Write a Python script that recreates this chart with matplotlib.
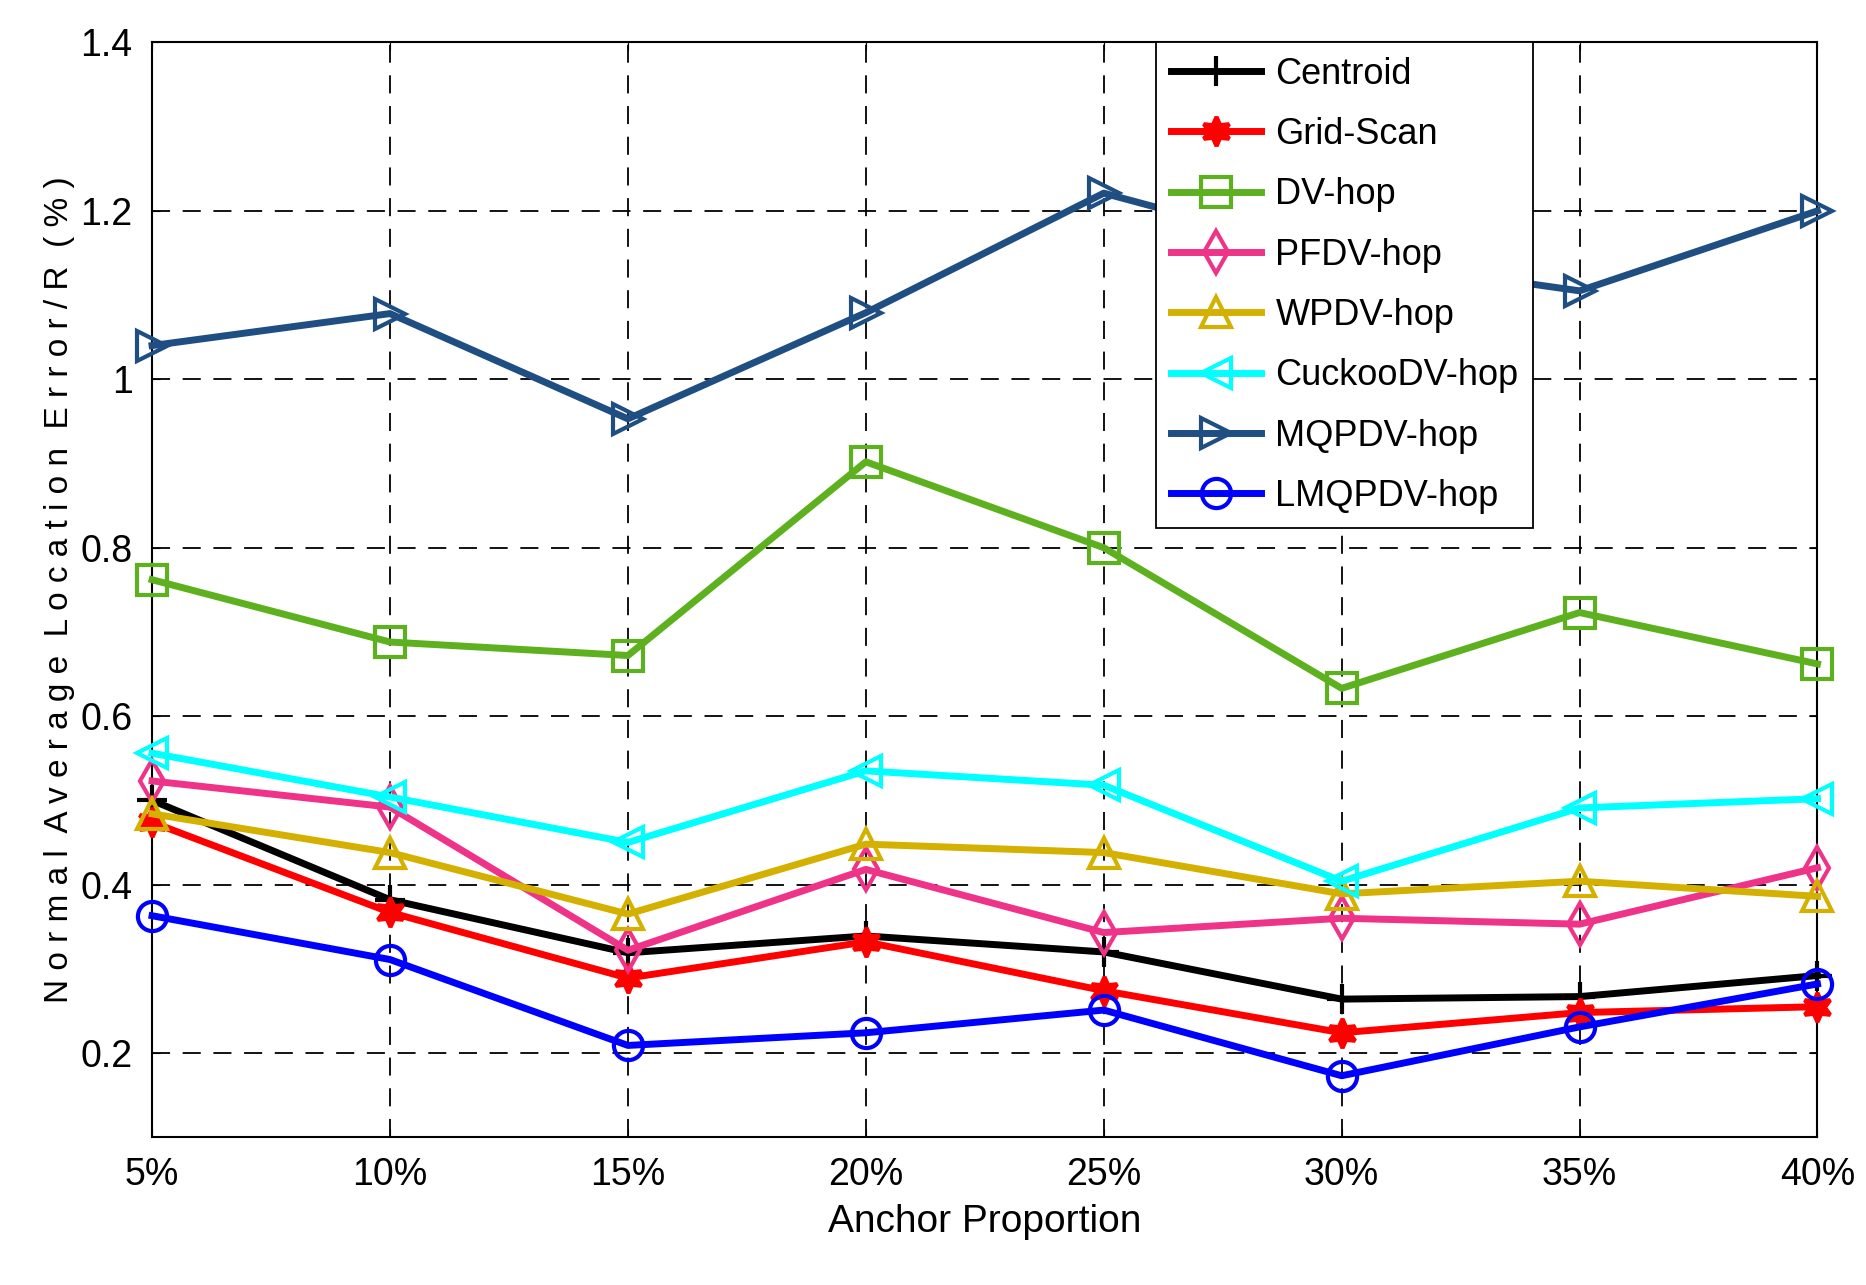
import numpy as np
import matplotlib
matplotlib.use('Agg')
import matplotlib.pyplot as plt

# Data
anchor = [5, 10, 15, 20, 25, 30, 35, 40]
tick_labels = ['5%', '10%', '15%', '20%', '25%', '30%', '35%', '40%']

centroid = [0.500, 0.382, 0.319, 0.339, 0.320, 0.264, 0.267, 0.292]
grid_scan = [0.474, 0.367, 0.289, 0.332, 0.274, 0.224, 0.248, 0.255]
dv_hop = [0.762, 0.688, 0.672, 0.902, 0.800, 0.633, 0.723, 0.662]
pfdv_hop = [0.523, 0.492, 0.322, 0.418, 0.343, 0.360, 0.353, 0.420]
wpdv_hop = [0.484, 0.438, 0.365, 0.448, 0.438, 0.389, 0.404, 0.386]
cuckoo_hop = [0.556, 0.504, 0.450, 0.535, 0.518, 0.404, 0.491, 0.502]
mqpdv_hop = [1.040, 1.078, 0.953, 1.079, 1.221, 1.145, 1.105, 1.200]
lmqpdv_hop = [0.363, 0.311, 0.209, 0.224, 0.251, 0.173, 0.231, 0.282]

series = [
    ('Centroid', centroid, 'k', '+'),
    ('Grid-Scan', grid_scan, '#ff0000', (6, 1, 0)),
    ('DV-hop', dv_hop, '#5db01e', 's'),
    ('PFDV-hop', pfdv_hop, '#ee3388', 'd'),
    ('WPDV-hop', wpdv_hop, '#d4b000', '^'),
    ('CuckooDV-hop', cuckoo_hop, '#00ffff', '<'),
    ('MQPDV-hop', mqpdv_hop, '#1f4e82', '>'),
    ('LMQPDV-hop', lmqpdv_hop, '#0000ff', 'o'),
]

plt.rcParams['font.family'] = ['Liberation Sans', 'DejaVu Sans']

fig = plt.figure(figsize=(18.66, 12.85), dpi=100)
ax = fig.add_axes([0.0815, 0.115, 0.8925, 0.852])

for name, vals, col, mk in series:
    filled = name == 'Grid-Scan'
    ax.plot(anchor, vals, color=col, lw=5, marker=mk, markersize=21,
            markeredgewidth=3, markerfacecolor=col if filled else 'none',
            markeredgecolor=col, label=name, clip_on=False, zorder=3)

ax.set_xlim(5, 40)
ax.set_ylim(0.1, 1.4)
ax.set_xticks(anchor)
ax.set_xticklabels(tick_labels)
ax.set_yticks([0.2, 0.4, 0.6, 0.8, 1.0, 1.2, 1.4])
ax.set_yticklabels(['0.2', '0.4', '0.6', '0.8', '1', '1.2', '1.4'])
ax.tick_params(direction='in', labelsize=27, length=6, top=True, right=True,
               pad=14)
ax.grid(True, color='k', linestyle=(0, (10, 7)), linewidth=1.3)
for s in ax.spines.values():
    s.set_linewidth(1.5)

ax.set_xlabel('Anchor Proportion', fontsize=28, labelpad=8)
ax.set_ylabel('N o r m a l  A v e r a g e  L o c a t i o n  E r r o r / R  ( % )',
              fontsize=24, labelpad=4)

leg = ax.legend(loc='upper left', bbox_to_anchor=(0.603, 1.0),
                borderaxespad=0, fancybox=False, edgecolor='k',
                framealpha=1, fontsize=26, handlelength=2.5,
                labelspacing=0.7, handletextpad=0.4, borderpad=0.4)
leg.get_frame().set_linewidth(1.3)

fig.savefig('out.png', dpi=100)
